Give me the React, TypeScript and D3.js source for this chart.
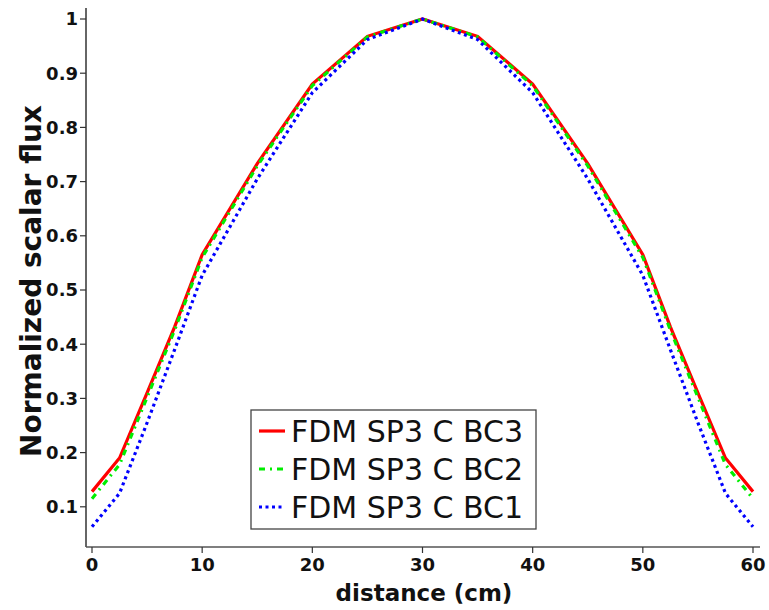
import React from "react";
import * as d3 from "d3";

const xs = [0, 2.5, 5, 7.5, 10, 15, 20, 25, 30, 35, 40, 45, 50, 52.5, 55, 57.5, 60];
const bc3 = [0.128, 0.19, 0.31, 0.432, 0.565, 0.733, 0.88, 0.968, 1.0, 0.968, 0.88, 0.733, 0.565, 0.432, 0.31, 0.19, 0.128];
const bc2 = [0.115, 0.178, 0.302, 0.426, 0.56, 0.729, 0.877, 0.967, 1.0, 0.967, 0.877, 0.729, 0.56, 0.426, 0.302, 0.178, 0.115];
const bc1 = [0.063, 0.125, 0.255, 0.39, 0.527, 0.705, 0.864, 0.962, 1.0, 0.962, 0.864, 0.705, 0.527, 0.39, 0.255, 0.125, 0.063];
const seriesNames = ["FDM SP3 C BC3", "FDM SP3 C BC2", "FDM SP3 C BC1"];
const xTicks = [0, 10, 20, 30, 40, 50, 60];
const yTicks = [0.1, 0.2, 0.3, 0.4, 0.5, 0.6, 0.7, 0.8, 0.9, 1];

export default function App() {
  const W = 769, H = 610;
  const x = d3.scaleLinear().domain([0, 60]).range([92, 753]);
  const y = d3.scaleLinear().domain([0, 1]).range([561, 19]);
  const axisX0 = 86, axisY0 = 547;
  const line = d3.line<number>().x((_, i) => x(xs[i])).y((d) => y(d));
  const styles = [
    { color: "#ff0000", dash: "none", width: 3.2 },
    { color: "#00ee00", dash: "6,5,2,5", width: 3.2 },
    { color: "#0000ff", dash: "3,3.5", width: 3.2 },
  ];
  const data = [bc3, bc2, bc1];
  const font = "'DejaVu Sans', sans-serif";
  const lg = { x: 251, y: 410, w: 285, h: 119 };
  return (
    <svg width={W} height={H} style={{ position: "absolute", left: 0, top: 0 }}>
      <rect width={W} height={H} fill="#fff" />
      {data.map((d, i) => (
        <path key={i} d={line(d) || ""} fill="none" stroke={styles[i].color} strokeWidth={styles[i].width} strokeDasharray={styles[i].dash} />
      ))}
      <line x1={axisX0} x2={axisX0} y1={8} y2={axisY0} stroke="#333" strokeWidth={1.5} />
      <line x1={axisX0} x2={760} y1={axisY0} y2={axisY0} stroke="#555" strokeWidth={1.5} />
      {yTicks.map((t) => (
        <g key={t}>
          <line x1={axisX0 - 6} x2={axisX0} y1={y(t)} y2={y(t)} stroke="#333" strokeWidth={1.2} />
          <text x={78} y={y(t)} dy="0.36em" textAnchor="end" fontFamily={font} fontSize={18} fontWeight="bold" fill="#111">{d3.format("~g")(t)}</text>
        </g>
      ))}
      {xTicks.map((t) => (
        <g key={t}>
          <line x1={x(t)} x2={x(t)} y1={axisY0} y2={axisY0 + 6} stroke="#333" strokeWidth={1.2} />
          <text x={x(t)} y={571} textAnchor="middle" fontFamily={font} fontSize={18} fontWeight="bold" fill="#111">{t}</text>
        </g>
      ))}
      <text x={424} y={601} textAnchor="middle" fontFamily={font} fontSize={23} fontWeight="bold" fill="#111">distance (cm)</text>
      <text transform="translate(41,281) rotate(-90)" textAnchor="middle" fontFamily={font} fontSize={28} fontWeight="bold" fill="#111">Normalized scalar flux</text>
      <rect x={lg.x} y={lg.y} width={lg.w} height={lg.h} fill="#fff" stroke="#444" strokeWidth={1.3} />
      {seriesNames.map((n, i) => {
        const cy = lg.y + 21 + i * 38;
        return (
          <g key={n}>
            <line x1={lg.x + 8} x2={lg.x + 34} y1={cy} y2={cy} stroke={styles[i].color} strokeWidth={styles[i].width} strokeDasharray={styles[i].dash} />
            <text x={lg.x + 40} y={cy} dy="0.36em" fontFamily={font} fontSize={30} fill="#111">{n}</text>
          </g>
        );
      })}
    </svg>
  );
}
